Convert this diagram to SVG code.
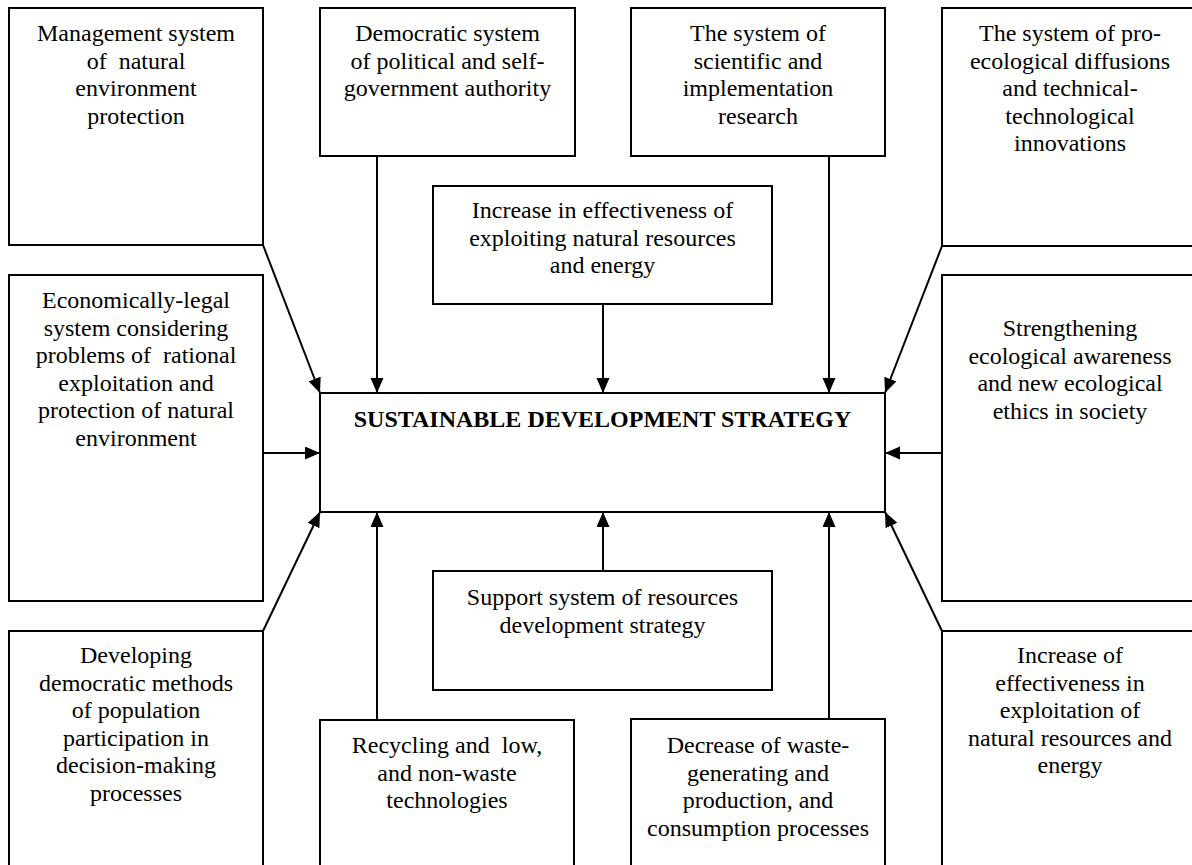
<svg xmlns="http://www.w3.org/2000/svg" width="1192" height="865" viewBox="0 0 1192 865">
<style>
  .box { fill: #ffffff; stroke: #000000; stroke-width: 2; }
  .t { font-family: "Liberation Serif", "Times New Roman", serif; font-size: 24px; fill: #000000; text-anchor: middle; }
  .title { font-weight: bold; }
  .conn { stroke: #000000; stroke-width: 2; fill: none; marker-end: url(#arrow); }
</style>
<defs>
  <marker id="arrow" markerUnits="userSpaceOnUse" markerWidth="16" markerHeight="14" refX="15" refY="6.5" orient="auto">
    <path d="M0,0 L15,6.5 L0,13 Z" fill="#000000"/>
  </marker>
</defs>
<rect width="1192" height="865" fill="#ffffff"/>

<g id="n-management">
  <rect class="box" x="9" y="8" width="254" height="237"/>
  <text class="t" xml:space="preserve"><tspan x="136" y="41">Management system</tspan><tspan x="136" y="68.6">of  natural</tspan><tspan x="136" y="96.2">environment</tspan><tspan x="136" y="123.8">protection</tspan></text>
</g>
<g id="n-democratic">
  <rect class="box" x="320" y="8" width="255" height="148"/>
  <text class="t"><tspan x="447.5" y="41">Democratic system</tspan><tspan x="447.5" y="68.6">of political and self-</tspan><tspan x="447.5" y="96.2">government authority</tspan></text>
</g>
<g id="n-scientific">
  <rect class="box" x="631" y="8" width="254" height="148"/>
  <text class="t"><tspan x="758" y="41">The system of</tspan><tspan x="758" y="68.6">scientific and</tspan><tspan x="758" y="96.2">implementation</tspan><tspan x="758" y="123.8">research</tspan></text>
</g>
<g id="n-proecological">
  <rect class="box" x="942" y="8" width="256" height="238"/>
  <text class="t"><tspan x="1070" y="41">The system of pro-</tspan><tspan x="1070" y="68.6">ecological diffusions</tspan><tspan x="1070" y="96.2">and technical-</tspan><tspan x="1070" y="123.8">technological</tspan><tspan x="1070" y="151.4">innovations</tspan></text>
</g>
<g id="n-increase-top">
  <rect class="box" x="433" y="186" width="339" height="118"/>
  <text class="t"><tspan x="602.5" y="218">Increase in effectiveness of</tspan><tspan x="602.5" y="245.6">exploiting natural resources</tspan><tspan x="602.5" y="273.2">and energy</tspan></text>
</g>
<g id="n-economic">
  <rect class="box" x="9" y="275" width="254" height="326"/>
  <text class="t" xml:space="preserve"><tspan x="136" y="308">Economically-legal</tspan><tspan x="136" y="335.6">system considering</tspan><tspan x="136" y="363.2">problems of  rational</tspan><tspan x="136" y="390.8">exploitation and</tspan><tspan x="136" y="418.4">protection of natural</tspan><tspan x="136" y="446">environment</tspan></text>
</g>
<g id="n-center">
  <rect class="box" x="320" y="393" width="565" height="119"/>
  <text class="t title" x="602.5" y="427">SUSTAINABLE DEVELOPMENT STRATEGY</text>
</g>
<g id="n-strengthening">
  <rect class="box" x="942" y="275" width="256" height="326"/>
  <text class="t"><tspan x="1070" y="336">Strengthening</tspan><tspan x="1070" y="363.6">ecological awareness</tspan><tspan x="1070" y="391.2">and new ecological</tspan><tspan x="1070" y="418.8">ethics in society</tspan></text>
</g>
<g id="n-support">
  <rect class="box" x="433" y="571" width="339" height="119"/>
  <text class="t"><tspan x="602.5" y="605">Support system of resources</tspan><tspan x="602.5" y="632.6">development strategy</tspan></text>
</g>
<g id="n-developing">
  <rect class="box" x="9" y="631" width="254" height="245"/>
  <text class="t"><tspan x="136" y="663">Developing</tspan><tspan x="136" y="690.6">democratic methods</tspan><tspan x="136" y="718.2">of population</tspan><tspan x="136" y="745.8">participation in</tspan><tspan x="136" y="773.4">decision-making</tspan><tspan x="136" y="801">processes</tspan></text>
</g>
<g id="n-recycling">
  <rect class="box" x="320" y="720" width="254" height="156"/>
  <text class="t" xml:space="preserve"><tspan x="447" y="753">Recycling and  low,</tspan><tspan x="447" y="780.6">and non-waste</tspan><tspan x="447" y="808.2">technologies</tspan></text>
</g>
<g id="n-decrease">
  <rect class="box" x="631" y="719" width="254" height="157"/>
  <text class="t"><tspan x="758" y="753">Decrease of waste-</tspan><tspan x="758" y="780.6">generating and</tspan><tspan x="758" y="808.2">production, and</tspan><tspan x="758" y="835.8">consumption processes</tspan></text>
</g>
<g id="n-increase-bottom">
  <rect class="box" x="942" y="631" width="256" height="245"/>
  <text class="t"><tspan x="1070" y="663">Increase of</tspan><tspan x="1070" y="690.6">effectiveness in</tspan><tspan x="1070" y="718.2">exploitation of</tspan><tspan x="1070" y="745.8">natural resources and</tspan><tspan x="1070" y="773.4">energy</tspan></text>
</g>

<g id="connectors">
  <line class="conn" x1="263" y1="245" x2="320" y2="393"/>
  <line class="conn" x1="377" y1="156" x2="377" y2="393"/>
  <line class="conn" x1="603" y1="304" x2="603" y2="393"/>
  <line class="conn" x1="829" y1="156" x2="829" y2="393"/>
  <line class="conn" x1="942" y1="246" x2="885" y2="393"/>
  <line class="conn" x1="263" y1="453" x2="320" y2="453"/>
  <line class="conn" x1="942" y1="453" x2="885" y2="453"/>
  <line class="conn" x1="263" y1="631" x2="320" y2="512"/>
  <line class="conn" x1="377" y1="720" x2="377" y2="512"/>
  <line class="conn" x1="603" y1="571" x2="603" y2="512"/>
  <line class="conn" x1="829" y1="719" x2="829" y2="512"/>
  <line class="conn" x1="942" y1="631" x2="885" y2="512"/>
</g>
</svg>
